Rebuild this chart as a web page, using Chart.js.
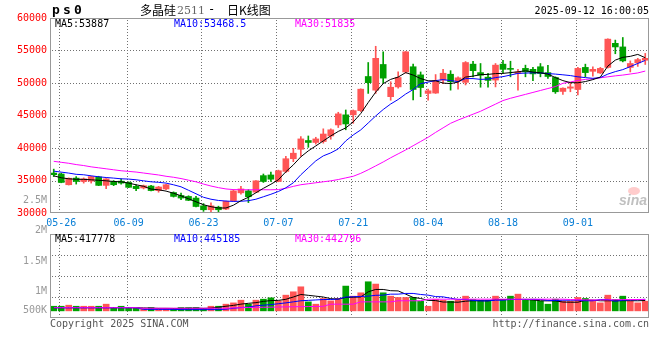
<!DOCTYPE html>
<html>
<head>
<meta charset="utf-8">
<script src="https://cdn.jsdelivr.net/npm/chart.js@4.4.0/dist/chart.umd.min.js"></script>
<style>
  body { margin: 0; background: #fff; }
  #wrap { position: relative; width: 660px; height: 360px; overflow: hidden; }
  canvas { position: absolute; left: 0; }
</style>
</head>
<body>
<div id="wrap">
  <canvas id="priceChart" width="660" height="232" style="top:0px"></canvas>
  <canvas id="volChart" width="660" height="136" style="top:224px"></canvas>
</div>
<script>
// trading days shown on the chart
const dates = [
  '05-23','05-26','05-27','05-28','05-29','05-30','06-03','06-04','06-05','06-06',
  '06-09','06-10','06-11','06-12','06-13','06-16','06-17','06-18','06-19','06-20',
  '06-23','06-24','06-25','06-26','06-27','06-30','07-01','07-02','07-03','07-04',
  '07-07','07-08','07-09','07-10','07-11','07-14','07-15','07-16','07-17','07-18',
  '07-21','07-22','07-23','07-24','07-25','07-28','07-29','07-30','07-31','08-01',
  '08-04','08-05','08-06','08-07','08-08','08-11','08-12','08-13','08-14','08-15',
  '08-18','08-19','08-20','08-21','08-22','08-25','08-26','08-27','08-28','08-29',
  '09-01','09-02','09-03','09-04','09-05','09-08','09-09','09-10','09-11','09-12'
];
const tickDates = ['05-26','06-09','06-23','07-07','07-21','08-04','08-18','09-01'];

const opens = [
  36150,36000,34350,35370,34850,34900,35550,34250,34850,34900,
  34700,34100,33850,34150,33450,33700,33150,32700,32550,32300,
  31100,30500,30900,30600,31900,33100,33400,33200,35750,35850,
  34850,36400,38350,39800,41150,40850,41000,41850,43550,45100,
  45100,45750,51000,48900,52850,47900,49400,51700,52500,51250,
  48400,48450,50450,51350,50300,50100,52900,51600,50900,50450,
  52900,52250,51450,52250,52100,52500,51600,50850,48700,49200,
  49000,52400,51800,51550,52400,56100,55550,52400,53100,53500
];
const highs = [
  36750,36150,35400,35600,35400,35650,35650,35300,35000,35250,
  34800,34350,34300,34250,34100,34400,33250,33050,32650,32550,
  31450,31550,31050,31850,33600,34100,33600,35000,36000,36300,
  36600,38700,39950,41750,41850,41650,42950,42950,45500,45850,
  45850,49100,53150,55650,54800,50200,51700,54850,52900,51700,
  49050,51300,52100,51900,50950,53300,53350,53000,51500,53000,
  53500,53350,52100,52750,52400,53000,52700,50950,49250,50050,
  52400,52900,52500,52400,56800,56600,57000,53400,53800,54550
];
const lows = [
  35600,34650,34300,34450,34600,34600,34200,33750,34200,34450,
  33900,33450,33700,33400,33200,33600,32450,32050,31900,30950,
  30250,30150,30150,30500,31800,32900,31600,33150,34700,34850,
  34800,36200,37900,38700,40100,40600,40750,41350,43150,42800,
  43800,45600,48400,48400,50000,47350,49200,51500,47400,47900,
  47350,48400,49900,48900,49050,49700,50950,49350,49350,49400,
  51500,50950,48900,50950,50350,50950,50700,48400,48250,48650,
  48150,50950,51050,51450,52300,54500,53250,51700,52550,52850
];
const closes = [
  35900,34700,35350,34850,35250,35600,34250,35250,34350,34600,
  33950,33750,34200,33450,34000,34350,32550,32300,31950,31000,
  30500,31100,30500,31800,33400,33700,32500,34950,34850,35200,
  36500,38350,39200,41400,40850,41400,42150,42800,45250,43700,
  45750,49050,50050,53800,50750,49350,50850,54800,49000,49300,
  48800,50350,51500,50200,50800,53150,51900,51200,50400,52750,
  52100,52100,51700,51700,51400,51450,51000,48650,49200,49400,
  52250,51600,52100,52250,56750,55550,53400,53000,53600,53800
];

// moving averages as drawn
const ma5 = [
  35720,35420,35260,35180,35180,35110,35030,34950,34850,34800,
  34600,34340,34110,33680,33570,33370,33040,32650,32190,31730,
  31270,30970,30770,30770,31200,31890,32420,33110,33800,34420,
  35110,36340,37410,38640,39560,40320,41090,41860,42550,43090,
  44010,45300,47000,48600,49900,50560,50910,51600,51220,50680,
  50340,50340,49990,49910,50140,50910,51060,51290,51320,51450,
  51480,51600,51720,51880,51680,51570,51370,50830,50370,50060,
  50030,50220,50520,50910,52600,53520,53950,54100,54400,53887
];
const ma10 = [
  36440,36290,36140,35950,35880,35720,35570,35460,35370,35260,
  35220,35110,34950,34800,34720,34600,34340,34030,33500,32960,
  32420,32120,31930,31840,31780,31810,31890,32120,32500,32880,
  33310,33880,34650,35880,36950,38020,38790,39250,39860,41090,
  42010,42780,43850,44930,45920,46770,47460,48300,48990,49910,
  50140,50370,50520,50370,50220,50680,50680,50560,50600,50830,
  50980,51220,51480,51520,51570,51550,51450,51370,51260,51140,
  50950,50830,50720,50830,51370,51750,52060,52520,53010,53468.5
];
const ma30 = [
  37950,37800,37650,37450,37300,37100,36950,36800,36650,36500,
  36400,36300,36150,36000,35850,35650,35500,35300,35050,34800,
  34450,34150,33900,33700,33600,33580,33570,33570,33580,33570,
  33600,33800,34100,34350,34500,34650,34800,34950,35150,35400,
  35650,36100,36650,37250,37850,38500,39100,39700,40350,41000,
  41650,42400,43100,43800,44300,44750,45200,45650,46200,46750,
  47300,47650,47950,48250,48550,48850,49150,49450,49950,50150,
  50400,50550,50650,50800,50950,51100,51220,51380,51550,51835
];

const volumes = [
  280000,280000,305000,280000,280000,280000,280000,329000,249000,280000,
  249000,249000,225000,249000,225000,225000,225000,249000,249000,249000,
  225000,280000,280000,329000,360000,424000,329000,424000,448000,480000,
  408000,544000,624000,743000,384000,329000,465000,408000,465000,760000,
  520000,600000,863000,808000,600000,520000,489000,489000,489000,400000,
  280000,441000,424000,400000,424000,520000,441000,424000,424000,520000,
  441000,520000,568000,448000,448000,400000,329000,448000,400000,400000,
  489000,465000,424000,360000,544000,441000,520000,400000,360000,400000
];
const volMa5 = [
  245000,245000,245000,245000,245000,245000,245000,245000,245000,245000,
  245000,245000,240000,235000,230000,230000,228000,228000,230000,235000,
  230000,235000,255000,280000,300000,330000,350000,365000,395000,415000,
  420000,445000,500000,560000,540000,520000,500000,460000,450000,490000,
  495000,500000,624000,680000,680000,650000,645000,568000,490000,465000,
  420000,415000,380000,380000,376000,400000,410000,410000,408000,441000,
  441000,441000,441000,441000,430000,410000,408000,408000,380000,376000,
  376000,424000,424000,410000,410000,410000,412000,412000,410000,417778
];
const volMa10 = [
  245000,245000,245000,245000,245000,245000,245000,245000,245000,245000,
  245000,245000,205000,205000,205000,205000,205000,200000,200000,200000,
  200000,200000,200000,210000,230000,250000,260000,290000,305000,320000,
  340000,360000,385000,410000,420000,430000,440000,441000,450000,500000,
  505000,515000,520000,540000,545000,568000,568000,585000,585000,560000,
  544000,510000,504000,470000,441000,441000,420000,408000,408000,424000,
  424000,441000,441000,441000,441000,441000,420000,415000,424000,424000,
  424000,410000,410000,441000,441000,400000,424000,430000,435000,445185
];
const volMa30 = [
  245000,245000,245000,245000,245000,245000,245000,245000,245000,245000,
  245000,245000,232000,232000,232000,232000,232000,232000,232000,232000,
  232000,232000,232000,232000,240000,245000,250000,252000,255000,258000,
  262000,265000,268000,270000,272000,275000,278000,329000,329000,329000,
  329000,384000,384000,384000,384000,384000,410000,410000,410000,410000,
  448000,448000,448000,448000,448000,448000,448000,448000,448000,448000,
  448000,448000,448000,448000,448000,448000,448000,448000,448000,440000,
  435000,432000,430000,430000,432000,435000,438000,440000,441000,442796
];
const volTickLabels = ['2M', '1.5M', '1M', '500K'];

const mono = '"DejaVu Sans Mono", "Liberation Mono", monospace';
const upColor = '#ff5555';
const downColor = '#00a000';
const gridColor = '#707070';
const volBarBase = 170000;

const candleColors = dates.map((d, i) => closes[i] >= opens[i] ? upColor : downColor);
const last = dates.length - 1;

function lineSet(label, data, color, order) {
  return { type: 'line', label: label, data: data, borderColor: color, borderWidth: 1,
           pointRadius: 0, tension: 0, order: order };
}

// dotted grid, painted behind whatever is already on the canvas
function drawGrid(chart) {
  const a = chart.chartArea;
  const c = chart.ctx;
  const xs = chart.scales.x;
  const ys = chart.scales.y;
  c.save();
  c.globalCompositeOperation = 'destination-over';
  c.fillStyle = gridColor;
  ys.ticks.forEach(t => {
    const y = Math.round(ys.getPixelForValue(t.value));
    if (y <= a.top + 2 || y >= a.bottom - 2) return;
    for (let x = Math.round(a.left) + 2; x < a.right - 1; x += 3) c.fillRect(x, y, 1, 1);
  });
  tickDates.forEach(d => {
    const x = Math.round(xs.getPixelForValue(dates.indexOf(d))) - 2;
    for (let y = Math.round(a.top) + 2; y < a.bottom - 1; y += 3) c.fillRect(x, y, 1, 1);
  });
  c.restore();
}

function drawFrame(chart) {
  const a = chart.chartArea;
  const c = chart.ctx;
  c.save();
  c.strokeStyle = '#999';
  c.lineWidth = 1;
  c.strokeRect(Math.round(a.left) + 0.5, Math.round(a.top) + 0.5,
               Math.round(a.right - a.left) - 1, Math.round(a.bottom - a.top) - 1);
  c.restore();
}

function txt(c, s, x, y, color, font, align) {
  c.fillStyle = color;
  c.font = font;
  c.textAlign = align || 'left';
  c.textBaseline = 'middle';
  c.fillText(s, x, y);
}

const priceText = {
  id: 'priceText',
  afterDraw(chart) {
    drawGrid(chart);
    drawFrame(chart);
    const c = chart.ctx;
    c.save();
    // title
    txt(c, 'p', 52, 11, '#000', 'bold 13px ' + mono);
    txt(c, 's', 63, 11, '#000', 'bold 13px ' + mono);
    txt(c, '0', 74, 11, '#000', 'bold 13px ' + mono);
    txt(c, '多晶硅', 140, 10, '#000', '12px "Noto Sans CJK SC"');
    txt(c, '2511', 177, 11, '#666', '11px "DejaVu Serif"');
    txt(c, '-', 208, 10, '#000', '12px ' + mono);
    txt(c, '日K线图', 227, 10, '#000', '12px "Noto Sans CJK SC"');
    txt(c, '2025-09-12 16:00:05', 649, 11, '#000', '10px ' + mono, 'right');
    // MA legend
    txt(c, 'MA5:' + ma5[last], 55, 24, '#000', '10px ' + mono);
    txt(c, 'MA10:' + ma10[last], 174, 24, '#0000ff', '10px ' + mono);
    txt(c, 'MA30:' + ma30[last], 295, 24, '#ff00ff', '10px ' + mono);
    txt(c, '2.5M', 47, 200, '#999', '10px ' + mono, 'right');
    // sina mark
    c.fillStyle = 'rgba(255,110,110,0.35)';
    c.beginPath();
    c.ellipse(634, 191, 6, 4, 0, 0, Math.PI * 2);
    c.fill();
    txt(c, 'sina', 619, 201, 'rgba(150,150,150,0.6)', 'italic bold 14px "Liberation Sans"');
    c.restore();
  }
};

const volText = {
  id: 'volText',
  afterDraw(chart) {
    drawGrid(chart);
    drawFrame(chart);
    const c = chart.ctx;
    c.save();
    const ys = [6, 37, 67, 86];
    volTickLabels.forEach((s, i) => txt(c, s, 47, ys[i], '#999', '10px ' + mono, 'right'));
    txt(c, 'MA5:' + volMa5[last], 55, 15, '#000', '10px ' + mono);
    txt(c, 'MA10:' + volMa10[last], 174, 15, '#0000ff', '10px ' + mono);
    txt(c, 'MA30:' + volMa30[last], 295, 15, '#ff00ff', '10px ' + mono);
    txt(c, 'Copyright 2025 SINA.COM', 50, 100, '#555', '10px ' + mono);
    txt(c, 'http://finance.sina.com.cn', 649, 100, '#555', '10px ' + mono, 'right');
    c.restore();
  }
};

Chart.defaults.font.family = mono;
Chart.defaults.font.size = 10;

new Chart(document.getElementById('priceChart'), {
  type: 'bar',
  data: {
    labels: dates,
    datasets: [
      lineSet('MA5', ma5, '#000000', 0),
      lineSet('MA10', ma10, '#0000ff', 1),
      lineSet('MA30', ma30, '#ff00ff', 2),
      { label: 'body', data: dates.map((d, i) => [opens[i], closes[i]]),
        backgroundColor: candleColors, barThickness: 6, grouped: false, order: 5 },
      { label: 'wick', data: dates.map((d, i) => [lows[i], highs[i]]),
        backgroundColor: candleColors, barThickness: 1, grouped: false, order: 6 }
    ]
  },
  options: {
    responsive: false,
    devicePixelRatio: 1,
    animation: false,
    layout: { padding: { top: 18, right: 11, left: 0, bottom: 0 } },
    plugins: { legend: { display: false }, tooltip: { enabled: false } },
    scales: {
      x: {
        offset: true,
        grid: { display: false, drawTicks: false },
        border: { display: false },
        ticks: {
          autoSkip: false, maxRotation: 0, minRotation: 0, padding: 4,
          color: '#0a7fd6', font: { family: mono, size: 10 },
          callback: (v, i) => tickDates.includes(dates[i]) ? dates[i] : ''
        },
        afterFit: s => { s.height = 19; }
      },
      y: {
        min: 30000, max: 60000,
        ticks: { stepSize: 5000, padding: 3, color: '#ff0000', font: { family: mono, size: 10 },
                 callback: v => String(v) },
        grid: { display: false, drawTicks: false },
        border: { display: false },
        afterFit: s => { s.width = 50; }
      }
    }
  },
  plugins: [priceText]
});

new Chart(document.getElementById('volChart'), {
  type: 'bar',
  data: {
    labels: dates,
    datasets: [
      lineSet('MA5', volMa5, '#000000', 2),
      lineSet('MA10', volMa10, '#0000ff', 1),
      lineSet('MA30', volMa30, '#ff00ff', 0),
      { label: 'volume', data: volumes, backgroundColor: candleColors,
        barThickness: 6, base: volBarBase, order: 5 }
    ]
  },
  options: {
    responsive: false,
    devicePixelRatio: 1,
    animation: false,
    layout: { padding: { top: 10, right: 11, left: 0, bottom: 0 } },
    plugins: { legend: { display: false }, tooltip: { enabled: false } },
    scales: {
      x: {
        offset: true,
        grid: { display: false, drawTicks: false },
        border: { display: false },
        ticks: { display: false, autoSkip: false },
        afterFit: s => { s.height = 42; }
      },
      y: {
        min: 0, max: 2000000,
        ticks: { display: false, stepSize: 500000 },
        grid: { display: false, drawTicks: false },
        border: { display: false },
        afterFit: s => { s.width = 50; }
      }
    }
  },
  plugins: [volText]
});
</script>
</body>
</html>
